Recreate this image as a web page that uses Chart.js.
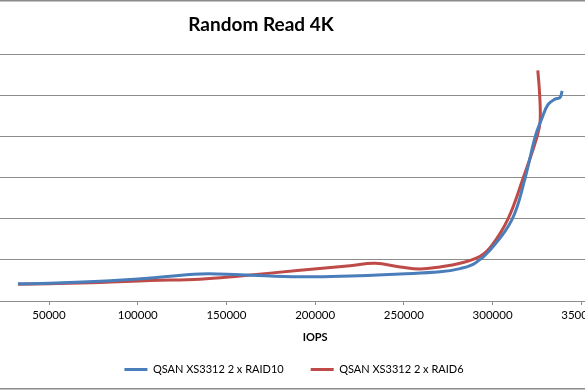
<!DOCTYPE html>
<html>
<head>
<meta charset="utf-8">
<script src="https://cdn.jsdelivr.net/npm/chart.js@4/dist/chart.umd.min.js"></script>
<style>
  html, body { margin: 0; padding: 0; width: 585px; height: 390px; overflow: hidden; background: #fff; }
  #wrap { position: relative; width: 585px; height: 390px; overflow: hidden; }
  #c { position: absolute; left: -82px; top: 0; }
</style>
</head>
<body>
<div id="wrap"><canvas id="c" width="752" height="390"></canvas></div>
<script>
const chartTitle = "Random Read 4K";
const xAxisTitle = "IOPS";
const seriesNames = ["QSAN XS3312 2 x RAID10", "QSAN XS3312 2 x RAID6"];
const xTicks = [0, 50000, 100000, 150000, 200000, 250000, 300000, 350000];

const raid10Iops = [32500, 50000, 78750, 106900, 135100, 157700, 191500, 219700, 247900, 270400, 281700, 290100, 298600, 311000, 318300, 324000, 327900, 331300, 335200, 338000, 339200];
const raid10Lat  = [0.42, 0.43, 0.48, 0.56, 0.66, 0.64, 0.59, 0.61, 0.66, 0.71, 0.79, 0.92, 1.24, 1.99, 2.99, 4.00, 4.46, 4.79, 4.92, 4.96, 5.12];

const raid6Iops = [32500, 50000, 78750, 106900, 135100, 157700, 191500, 219700, 233800, 247900, 259100, 270400, 281700, 293000, 299700, 308700, 317200, 325100, 326800, 326500, 325500];
const raid6Lat  = [0.41, 0.42, 0.45, 0.50, 0.53, 0.61, 0.75, 0.86, 0.92, 0.83, 0.78, 0.83, 0.92, 1.09, 1.36, 2.00, 2.99, 4.01, 4.38, 5.05, 5.62];

const toPts = (xs, ys) => xs.map((x, i) => ({ x: x, y: ys[i] }));

const FONT = "Lato";
const blue = "#4A7EBB";
const red = "#BE4B48";
const gridGray = "#8C8C8C";

const frame = {
  id: "frame",
  beforeDraw(chart) {
    const ctx = chart.ctx;
    ctx.save();
    ctx.strokeStyle = "#8A8A8A";
    ctx.lineWidth = 1.5;
    ctx.beginPath();
    ctx.moveTo(0, 0.75); ctx.lineTo(chart.width, 0.75);
    ctx.moveTo(0, 388.75); ctx.lineTo(chart.width, 388.75);
    ctx.stroke();
    ctx.restore();
  },
  afterLayout(chart) {
    const t = chart.titleBlock;
    if (t) { t.left -= 33; t.right -= 33; }
  }
};

new Chart(document.getElementById("c"), {
  type: "scatter",
  data: {
    datasets: [
      { label: seriesNames[0], data: toPts(raid10Iops, raid10Lat), showLine: true,
        borderColor: blue, backgroundColor: blue, borderWidth: 3, pointRadius: 0, tension: 0.4 },
      { label: seriesNames[1], data: toPts(raid6Iops, raid6Lat), showLine: true,
        borderColor: red, backgroundColor: red, borderWidth: 3, pointRadius: 0, tension: 0.4 }
    ]
  },
  options: {
    responsive: false,
    animation: false,
    layout: { padding: { top: 0, bottom: 5, left: 0, right: 0 } },
    plugins: {
      tooltip: { enabled: false },
      title: {
        display: true, text: chartTitle, color: "#000",
        font: { family: FONT, size: 19, weight: "bold" },
        padding: { top: 13, bottom: 19 }
      },
      legend: {
        display: true, position: "bottom",
        labels: {
          color: "#000", font: { family: FONT, size: 11 },
          boxWidth: 23, boxHeight: 3, padding: 27,
          generateLabels(chart) {
            const items = Chart.defaults.plugins.legend.labels.generateLabels(chart);
            items.forEach(it => { it.lineWidth = 0; });
            return items;
          }
        }
      }
    },
    scales: {
      x: {
        type: "linear", min: 0, max: 400000,
        afterBuildTicks(scale) {
          scale.ticks = xTicks.map(v => ({ value: v }));
        },
        ticks: { color: "#000", font: { family: FONT, size: 11.5 }, padding: 3, maxRotation: 0, autoSkip: false,
                 callback: v => String(v) },
        grid: { display: true, drawOnChartArea: false, drawTicks: true, tickLength: 4, color: gridGray },
        border: { display: true, color: gridGray, width: 1 },
        title: { display: true, text: xAxisTitle, color: "#000",
                 font: { family: FONT, size: 11, weight: "bold" }, padding: { top: 6, bottom: -7 } }
      },
      y: {
        min: 0, max: 6,
        afterFit(scale) { scale.width = 42.3; },
        ticks: { display: false, stepSize: 1 },
        grid: { color: gridGray, lineWidth: 1, drawTicks: false },
        border: { display: false }
      }
    }
  },
  plugins: [frame]
});
</script>
</body>
</html>
